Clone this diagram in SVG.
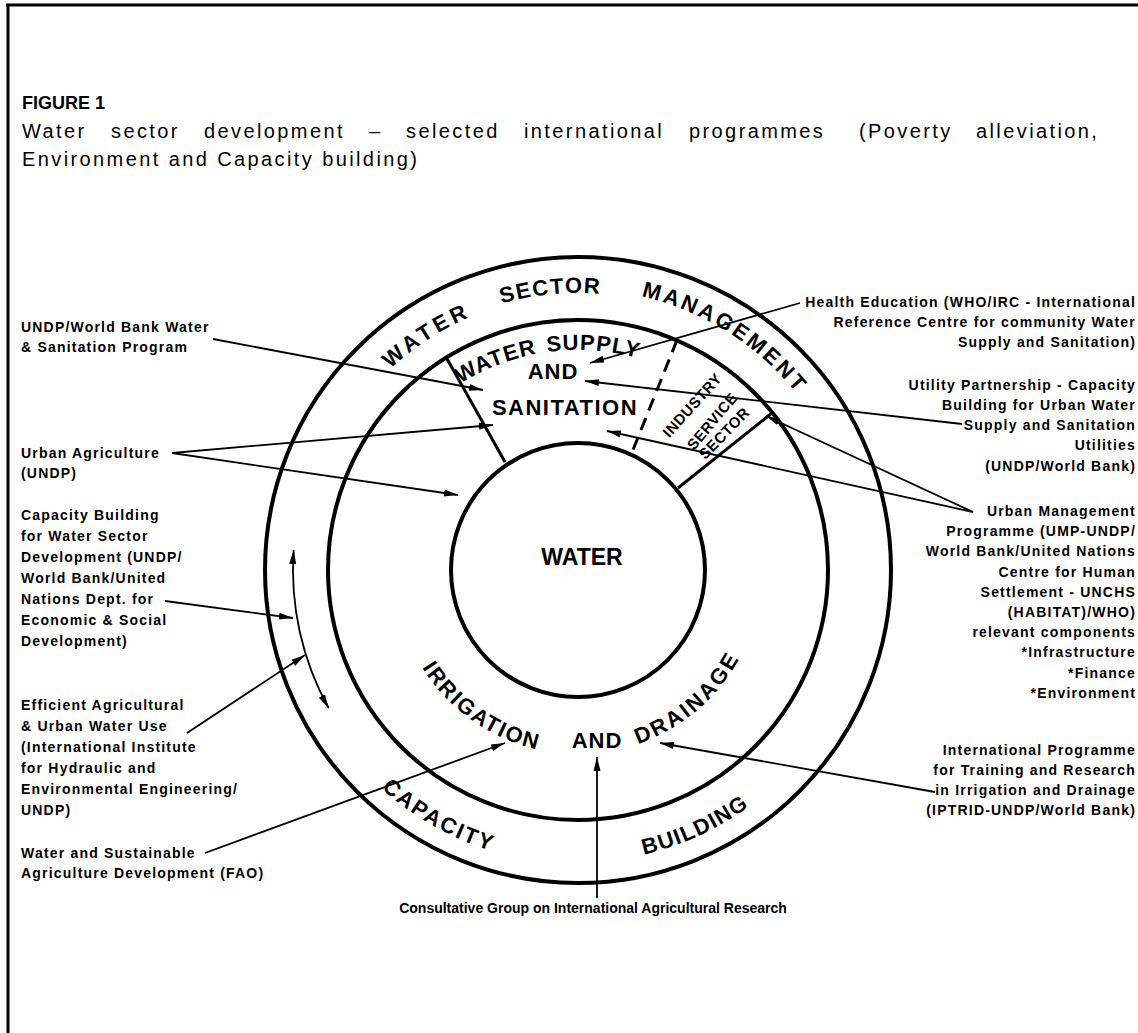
<svg xmlns="http://www.w3.org/2000/svg" width="1138" height="1033" viewBox="0 0 1138 1033">
<defs>
<style>
.lbl{font-family:"Liberation Sans",Arial,sans-serif;font-weight:bold;font-size:14px;letter-spacing:1.2px;fill:#000}
.r{text-anchor:end}
.ring{font-family:"Liberation Sans",Arial,sans-serif;font-weight:bold;font-size:22px;fill:#000}
.sec{font-family:"Liberation Sans",Arial,sans-serif;font-weight:bold;font-size:15px;fill:#000;text-anchor:middle;dominant-baseline:central;letter-spacing:0.5px}
.cap{font-family:"Liberation Sans",Arial,sans-serif;font-size:20px;letter-spacing:2.4px;fill:#000}
.conn{stroke:#000;stroke-width:1.8;fill:none}
.circ{stroke:#000;stroke-width:4;fill:none}
</style>
<marker id="ah" markerUnits="userSpaceOnUse" markerWidth="16" markerHeight="10" refX="14" refY="5" orient="auto-start-reverse" viewBox="0 0 16 10"><path d="M0,1.5 L14,5 L0,8.5 z" fill="#000"/></marker>
<path id="pWATERo" d="M390.4,368.9 A275,275 0 0 1 554.0,296.0"/>
<path id="pSECTOR" d="M501.6,303.7 A277,277 0 0 1 672.7,309.7"/>
<path id="pMAN" d="M641.2,296.2 A281,281 0 0 1 832.7,451.2"/>
<path id="pCAP" d="M381.3,788.5 A294,294 0 0 0 578,864"/>
<path id="pBUI" d="M643.7,854.5 A292,292 0 0 0 817.2,737.5"/>
<path id="pIRR" d="M422.0,667.5 A184,184 0 0 0 578,754"/>
<path id="pDRA" d="M637.9,744.0 A184,184 0 0 0 759.2,602.0"/>
<path id="pWSUP" d="M460.4,383.7 A222,222 0 0 1 689,379.7"/>
</defs>
<rect width="1138" height="1033" fill="#fff"/>
<g id="frame" stroke="#000" stroke-width="3" fill="none">
<line x1="6" y1="5" x2="1138" y2="5"/>
<line x1="8" y1="4" x2="8" y2="1033"/>
</g>
<g id="title">
<text x="22" y="109" font-family="Liberation Sans, Arial, sans-serif" font-weight="bold" font-size="18">FIGURE 1</text>
<text class="cap" y="138"><tspan x="22">Water</tspan><tspan x="111">sector</tspan><tspan x="204">development</tspan><tspan x="369">–</tspan><tspan x="406">selected</tspan><tspan x="524">international</tspan><tspan x="689">programmes</tspan><tspan x="859">(Poverty</tspan><tspan x="976">alleviation,</tspan></text>
<text class="cap" x="22" y="166">Environment and Capacity building)</text>
</g>
<g id="rings">
<circle class="circ" cx="578" cy="570" r="313"/>
<circle class="circ" cx="578" cy="570" r="250" stroke-width="4.5"/>
<circle class="circ" cx="578" cy="570" r="127"/>
<line x1="446" y1="357" x2="505" y2="462" stroke="#000" stroke-width="3"/>
<line x1="677" y1="340" x2="633" y2="450" stroke="#000" stroke-width="3" stroke-dasharray="13,8"/>
<line x1="772" y1="413" x2="678" y2="488" stroke="#000" stroke-width="3"/>
</g>
<g id="ring-labels" class="ring">
<text letter-spacing="4"><textPath href="#pWATERo">WATER</textPath></text>
<text letter-spacing="1.5"><textPath href="#pSECTOR">SECTOR</textPath></text>
<text letter-spacing="2.8"><textPath href="#pMAN">MANAGEMENT</textPath></text>
<text letter-spacing="2.2"><textPath href="#pCAP">CAPACITY</textPath></text>
<text letter-spacing="1.4"><textPath href="#pBUI">BUILDING</textPath></text>
<text letter-spacing="1.8"><textPath href="#pIRR">IRRIGATION</textPath></text>
<text letter-spacing="2.5"><textPath href="#pDRA">DRAINAGE</textPath></text>
<text letter-spacing="1"><textPath href="#pWSUP">WATER</textPath></text>
<text letter-spacing="1"><textPath href="#pWSUP" startOffset="93">SUPPLY</textPath></text>
<text x="553" y="379" text-anchor="middle" letter-spacing="1">AND</text>
<text x="565" y="415" text-anchor="middle" letter-spacing="1.5">SANITATION</text>
<text x="597" y="748" text-anchor="middle" letter-spacing="1">AND</text>
<text x="582" y="565" text-anchor="middle" font-size="23">WATER</text>
</g>
<g id="sector-labels" class="sec">
<text transform="translate(692,405) rotate(-48)">INDUSTRY</text>
<text transform="translate(712,421) rotate(-50)">SERVICE</text>
<text transform="translate(724,433) rotate(-46)">SECTOR</text>
</g>
<g id="left-labels" class="lbl">
<text x="21" y="332">UNDP/World Bank Water</text>
<text x="21" y="352">&amp; Sanitation Program</text>
<text x="21" y="458">Urban Agriculture</text>
<text x="21" y="478">(UNDP)</text>
<text x="21" y="520">Capacity Building</text>
<text x="21" y="541">for Water Sector</text>
<text x="21" y="562">Development (UNDP/</text>
<text x="21" y="583">World Bank/United</text>
<text x="21" y="604">Nations Dept. for</text>
<text x="21" y="625">Economic &amp; Social</text>
<text x="21" y="646">Development)</text>
<text x="21" y="710">Efficient Agricultural</text>
<text x="21" y="731">&amp; Urban Water Use</text>
<text x="21" y="752">(International Institute</text>
<text x="21" y="773">for Hydraulic and</text>
<text x="21" y="794">Environmental Engineering/</text>
<text x="21" y="815">UNDP)</text>
<text x="21" y="858">Water and Sustainable</text>
<text x="21" y="878">Agriculture Development (FAO)</text>
</g>
<g id="right-labels" class="lbl r">
<text x="1136" y="307">Health Education (WHO/IRC - International</text>
<text x="1136" y="327">Reference Centre for community Water</text>
<text x="1136" y="347">Supply and Sanitation)</text>
<text x="1136" y="390">Utility Partnership - Capacity</text>
<text x="1136" y="410">Building for Urban Water</text>
<text x="1136" y="430">Supply and Sanitation</text>
<text x="1136" y="450">Utilities</text>
<text x="1136" y="471">(UNDP/World Bank)</text>
<text x="1136" y="516">Urban Management</text>
<text x="1136" y="536">Programme (UMP-UNDP/</text>
<text x="1136" y="556">World Bank/United Nations</text>
<text x="1136" y="577">Centre for Human</text>
<text x="1136" y="597">Settlement - UNCHS</text>
<text x="1136" y="617">(HABITAT)/WHO)</text>
<text x="1136" y="637">relevant components</text>
<text x="1136" y="657">*Infrastructure</text>
<text x="1136" y="678">*Finance</text>
<text x="1136" y="698">*Environment</text>
<text x="1136" y="755">International Programme</text>
<text x="1136" y="775">for Training and Research</text>
<text x="1136" y="795">in Irrigation and Drainage</text>
<text x="1136" y="815">(IPTRID-UNDP/World Bank)</text>
</g>
<g id="bottom-label" class="lbl">
<text x="593" y="913" text-anchor="middle" letter-spacing="0">Consultative Group on International Agricultural Research</text>
</g>
<g id="connectors" class="conn" marker-end="url(#ah)">
<path d="M213,339 L483,390"/>
<path d="M172,453 L493,425"/>
<path d="M172,453 L458,495"/>
<path d="M165,601 L293,618"/>
<path d="M293.7,550.1 A285,285 0 0 0 328.7,708.2" marker-start="url(#ah)"/>
<path d="M187,733 L305,655"/>
<path d="M205,853 L505,743"/>
<path d="M597,898 L597,757"/>
<path d="M935,792 L660,743"/>
<path d="M800,303 L590,363"/>
<path d="M962,424 L585,381"/>
<path d="M973,512 L766,416"/>
<path d="M973,512 L607,431"/>
</g>
</svg>
